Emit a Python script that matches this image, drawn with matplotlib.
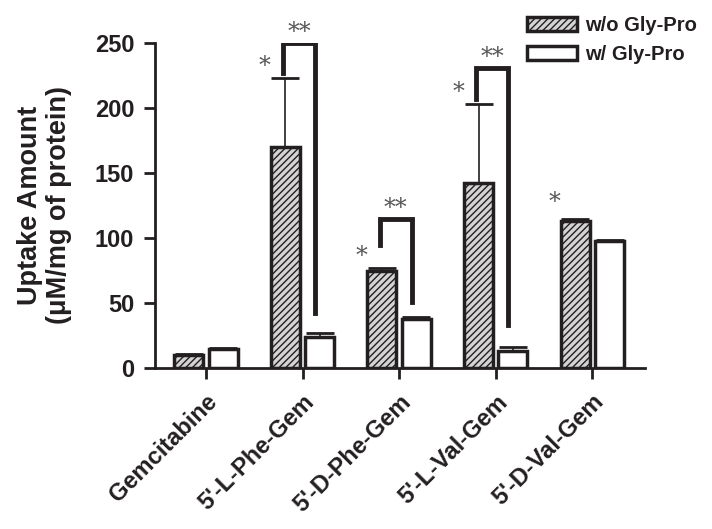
import matplotlib
matplotlib.use("Agg")
import matplotlib.pyplot as plt
import matplotlib.font_manager as fm
from matplotlib.patches import Patch
import numpy as np

# keep the narrow variant out of font matching
fm.fontManager.ttflist = [f for f in fm.fontManager.ttflist if "Narrow" not in f.fname]
plt.rcParams["font.family"] = ["Liberation Sans", "DejaVu Sans"]
plt.rcParams["hatch.linewidth"] = 1.0

# data
compounds = ["Gemcitabine", "5'-L-Phe-Gem", "5'-D-Phe-Gem", "5'-L-Val-Gem", "5'-D-Val-Gem"]
without_gp = [10, 170, 75, 142, 113]
without_gp_err = [1, 53, 2, 61, 1.5]
with_gp = [15, 24, 38, 13, 98]
with_gp_err = [0.5, 3, 1, 3, 0.5]

# significance markers: (group index, y of star)
single_star = [(1, 232), (2, 86), (3, 212), (4, 127)]
# brackets: (group index, left leg bottom, top, right leg bottom)
brackets = [(1, 227, 250, 42), (2, 95, 115, 51), (3, 207, 231, 33)]

dark = "#231f20"
fig = plt.figure(figsize=(7.12, 5.29), dpi=100)
ax = fig.add_axes([155 / 712, 1 - 368 / 529, 490 / 712, 325 / 529])

x = np.arange(len(compounds))
w = 0.30
off = 0.178
ax.bar(x - off, without_gp, w, color="#d4d4d4", edgecolor=dark, linewidth=2.5, hatch="/////", zorder=2)
ax.bar(x + off, with_gp, w, color="white", edgecolor=dark, linewidth=2.5, zorder=2)
ax.errorbar(x - off, without_gp, yerr=[np.zeros(5), without_gp_err], fmt="none",
            ecolor=dark, elinewidth=1.2, capsize=10, capthick=2, zorder=1)
ax.errorbar(x + off, with_gp, yerr=[np.zeros(5), with_gp_err], fmt="none",
            ecolor=dark, elinewidth=1.2, capsize=10, capthick=2, zorder=1)

for i, lb, top, rb in brackets:
    ax.plot([i - 0.2, i - 0.2, i + 0.13, i + 0.13], [lb, top, top, rb], color=dark,
            lw=3.5, solid_joinstyle="miter", zorder=3)
    ax.text(i - 0.035, top + 8, "**", ha="center", va="center", fontsize=17,
            family="DejaVu Serif", color="#555555")
for i, y in single_star:
    ax.text(i - 0.39, y, "*", ha="center", va="center", fontsize=17,
            family="DejaVu Serif", color="#555555")

ax.set_xlim(-0.528, 4.545)
ax.set_ylim(0, 250)
ax.set_yticks([0, 50, 100, 150, 200, 250])
ax.set_xticks(x)
ax.set_xticklabels(compounds, rotation=45, ha="right", rotation_mode="anchor",
                   fontsize=17, fontweight="bold", color=dark)
for lab in ax.get_yticklabels():
    lab.set_fontsize(17)
    lab.set_fontweight("bold")
    lab.set_color(dark)
ax.tick_params(axis="both", direction="out", length=8, width=2, color=dark)
ax.tick_params(axis="x", pad=8)
ax.tick_params(axis="y", pad=7)
for s in ["top", "right"]:
    ax.spines[s].set_visible(False)
for s in ["left", "bottom"]:
    ax.spines[s].set_linewidth(2)
    ax.spines[s].set_color(dark)
ax.set_ylabel("Uptake Amount\n(\u03bcM/mg of protein)", fontsize=19.5, fontweight="bold",
              color=dark, labelpad=16, linespacing=1.15)

handles = [Patch(facecolor="#d4d4d4", edgecolor=dark, hatch="/////", linewidth=2.5),
           Patch(facecolor="white", edgecolor=dark, linewidth=2.5)]
fig.legend(handles, ["w/o Gly-Pro", "w/ Gly-Pro"], loc="upper left",
           bbox_to_anchor=(509 / 712, 1 + 2 / 529), frameon=False,
           prop={"size": 14.5, "weight": "bold"}, handlelength=2.5, handleheight=0.65,
           handletextpad=0.4, labelspacing=0.5, labelcolor=dark)

fig.savefig("out.png", dpi=100)
